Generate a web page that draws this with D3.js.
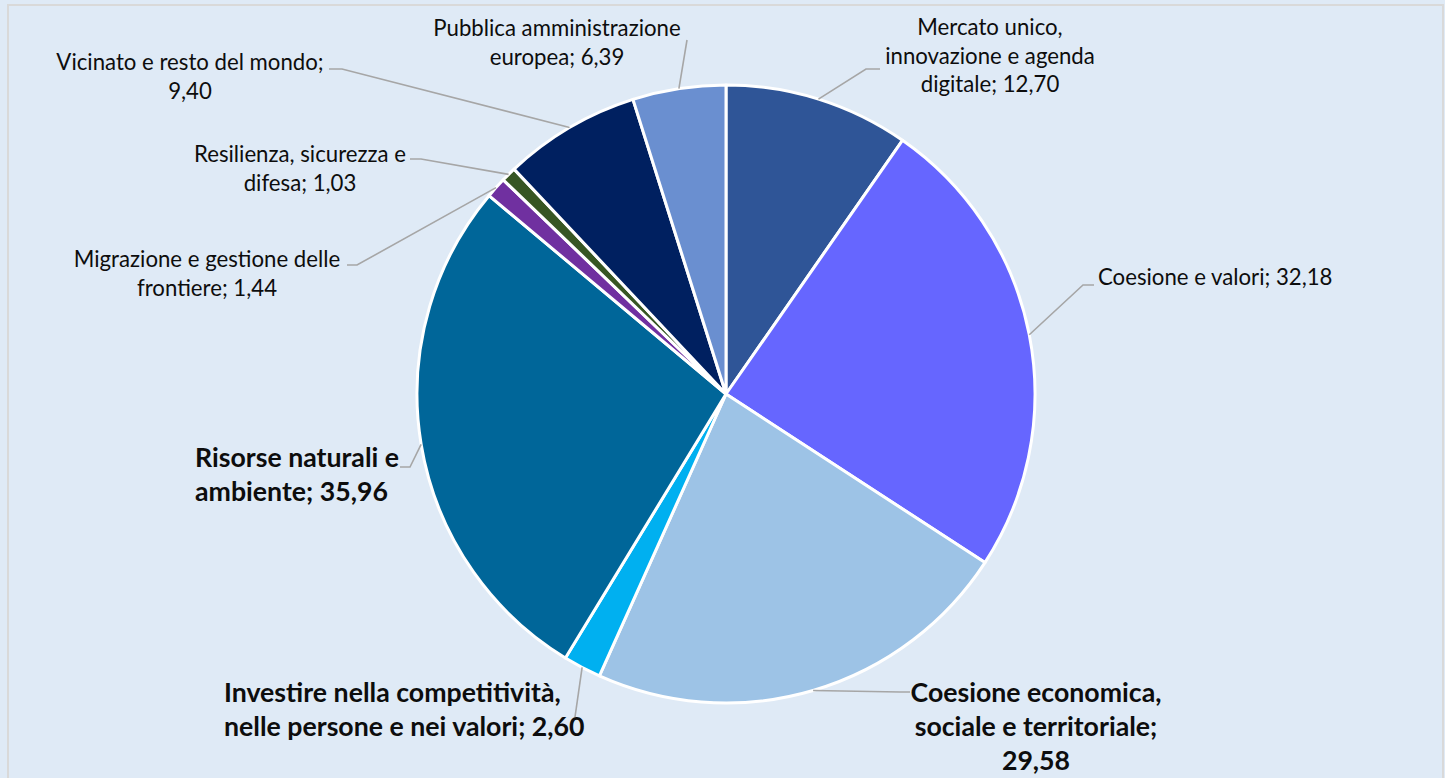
<!DOCTYPE html>
<html>
<head>
<meta charset="utf-8">
<script src="https://cdn.jsdelivr.net/npm/d3@7"></script>
<style>
  html, body { margin: 0; padding: 0; background: #dfeaf6; }
  svg { display: block; }
</style>
</head>
<body>
<svg id="chart" width="1445" height="778"></svg>
<script>
// ---- data ----
const categories = [
  "Mercato unico, innovazione e agenda digitale",
  "Coesione e valori",
  "Coesione economica, sociale e territoriale",
  "Investire nella competitività, nelle persone e nei valori",
  "Risorse naturali e ambiente",
  "Migrazione e gestione delle frontiere",
  "Resilienza, sicurezza e difesa",
  "Vicinato e resto del mondo",
  "Pubblica amministrazione europea"
];
const values = [12.70, 32.18, 29.58, 2.60, 35.96, 1.44, 1.03, 9.40, 6.39];
const colors = ["#2f5597", "#6666ff", "#9dc3e6", "#00b0f0", "#006699", "#7030a0", "#375623", "#002060", "#6a8fd0"];
const boldLabels = [false, false, true, true, true, false, false, false, false];

// ---- layout (positions / styles) ----
const W = 1445, H = 778;
const cx = 726, cy = 394, R = 309;
// words per line, anchor, x, first baseline, leader elbow & end
const labelLayout = [
  { words: [2,3,2], anchor: "middle", x: 990, y: 35, elbow: [866, 69], end: [880, 69] },
  { words: [4], anchor: "start", x: 1098, y: 285, elbow: [1083, 285], end: [1094, 285] },
  { words: [2,3,1], anchor: "middle", x: 1036, y: 702, elbow: [900, 692], end: [910, 692] },
  { words: [3,6], anchor: "start", x: 224, y: 702, elbow: [575, 717], end: [575, 717] },
  { words: [3,2], anchor: "start", x: 195, y: 467, elbow: [410, 467], end: [400, 467] },
  { words: [4,2], anchor: "middle", x: 207, y: 267, elbow: [357, 265], end: [347, 265] },
  { words: [3,2], anchor: "middle", x: 300, y: 162, elbow: [421, 159], end: [410, 159] },
  { words: [5,1], anchor: "middle", x: 190, y: 70, elbow: [342, 69], end: [329, 69] },
  { words: [2,2], anchor: "middle", x: 557, y: 36, elbow: [687, 40], end: [687, 40] }
];

const fmt = v => d3.format(".2f")(v).replace(".", ",");

const svg = d3.select("#chart");

svg.append("rect")
  .attr("x", 0).attr("y", 0).attr("width", W).attr("height", H)
  .attr("fill", "#dfeaf6");
svg.append("rect")
  .attr("x", 8).attr("y", 5).attr("width", 1435).attr("height", 800)
  .attr("fill", "#dfeaf6").attr("stroke", "#d9d9d9").attr("stroke-width", 2);

const pie = d3.pie().sort(null).value(d => d)(values);
const arc = d3.arc().innerRadius(0).outerRadius(R);
const rim = d3.arc().innerRadius(R).outerRadius(R);

const g = svg.append("g").attr("transform", `translate(${cx},${cy})`);

g.selectAll("path.slice")
  .data(pie)
  .join("path")
  .attr("class", "slice")
  .attr("d", arc)
  .attr("fill", (d, i) => colors[i])
  .attr("stroke", "#ffffff")
  .attr("stroke-width", 3)
  .attr("stroke-linejoin", "round");

// leader lines
pie.forEach((d, i) => {
  const L = labelLayout[i];
  const [sx, sy] = rim.centroid(d);
  const pts = [[cx + sx, cy + sy], L.elbow, L.end];
  svg.append("path")
    .attr("d", d3.line()(pts))
    .attr("fill", "none")
    .attr("stroke", "#a6a6a6")
    .attr("stroke-width", 1.6);
});

// labels
pie.forEach((d, i) => {
  const L = labelLayout[i];
  const full = `${categories[i]}; ${fmt(values[i])}`;
  const words = full.split(" ");
  const lines = [];
  let k = 0;
  L.words.forEach(n => { lines.push(words.slice(k, k + n).join(" ")); k += n; });
  const bold = boldLabels[i];
  const lh = bold ? 34 : 28.7;
  const t = svg.append("text")
    .attr("font-family", "Lato, 'Open Sans', sans-serif")
    .attr("font-size", bold ? 26.7 : 22.2)
    .attr("font-weight", bold ? "bold" : "normal")
    .attr("fill", "#0d0d0d")
    .attr("text-anchor", L.anchor);
  lines.forEach((ln, j) => {
    t.append("tspan").attr("x", L.x).attr("y", L.y + j * lh).text(ln);
  });
});
</script>
</body>
</html>
